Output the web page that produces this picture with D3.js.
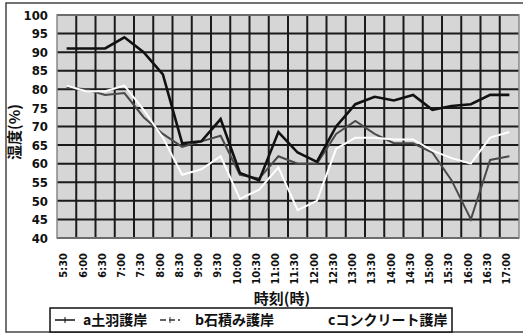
<!DOCTYPE html>
<html><head><meta charset="utf-8">
<script src="https://cdn.jsdelivr.net/npm/d3@7"></script>
<style>
body{margin:0;background:#fff;}
svg text{font-family:"DejaVu Sans Condensed","DejaVu Sans",sans-serif;}
</style></head>
<body><svg id="c" width="523" height="335"></svg>
<script>
const times = ["5:30","6:00","6:30","7:00","7:30","8:00","8:30","9:00","9:30","10:00","10:30","11:00","11:30","12:00","12:30","13:00","13:30","14:00","14:30","15:00","15:30","16:00","16:30","17:00"];
const yTicks = [40,45,50,55,60,65,70,75,80,85,90,95,100];
const seriesA = [91,91,91,94,90,84,65.5,66,72,57.5,55.5,68.5,63,60.5,70,76,78,77,78.5,74.5,75.5,76,78.5,78.5];
const seriesB = [80.5,80,78.5,79,72.5,68,64.5,66,67.5,57,56,62,60,60,68,71.5,68,65.5,65.5,63,55.5,45,61,62];
const seriesC = [81,79.5,79.5,81,74.5,67,57,58.5,62,50.5,53,59,47.5,50,64,67,67,66.5,66.5,63.5,61.5,60,67,68.5];
const seriesNames = ["a土羽護岸","b石積み護岸","cコンクリート護岸"];

const svg = d3.select("#c");
svg.append("rect").attr("x",6).attr("y",3).attr("width",530).attr("height",329)
  .attr("fill","none").attr("stroke","#444").attr("stroke-width",1.5);

const x = d3.scaleBand().domain(times).range([57,519]);
const y = d3.scaleLinear().domain([40,100]).range([238,15]);

svg.append("rect").attr("x",57).attr("y",15).attr("width",462).attr("height",223)
  .attr("fill","#d6d6d6");

const g = svg.append("g");
g.selectAll("line.h").data(yTicks).join("line")
  .attr("x1",57).attr("x2",519).attr("y1",d=>y(d)).attr("y2",d=>y(d))
  .attr("stroke","#1a1a1a").attr("stroke-width",2);
g.selectAll("line.v").data(times.slice(1)).join("line")
  .attr("x1",d=>x(d)).attr("x2",d=>x(d)).attr("y1",15).attr("y2",238)
  .attr("stroke","#1a1a1a").attr("stroke-width",2);
svg.append("rect").attr("x",57).attr("y",15).attr("width",462).attr("height",223)
  .attr("fill","none").attr("stroke","#888").attr("stroke-width",1.5);

const yAxis = d3.axisLeft(y).tickValues(yTicks).tickSize(0).tickPadding(9);
const ya = svg.append("g").attr("transform","translate(57,0)").call(yAxis);
ya.select(".domain").remove();
ya.selectAll("text").attr("font-size",13).attr("font-weight","bold").attr("fill","#111")
  .style("font-family","'DejaVu Sans Condensed',sans-serif");

const xAxis = d3.axisBottom(x).tickSize(0).tickPadding(0);
const xa = svg.append("g").attr("transform","translate(0,238)").call(xAxis);
xa.select(".domain").remove();
xa.selectAll("text").attr("font-size",11).attr("fill","#111").attr("font-weight","bold")
  .attr("text-anchor","end").attr("dy","0.35em")
  .attr("transform","translate(-3,15) rotate(-90)").attr("x",0).attr("y",0);

const line = d3.line().x((d,i)=>x(times[i])+x.bandwidth()/2).y(d=>y(d));
svg.append("path").datum(seriesB).attr("d",line).attr("fill","none")
  .attr("stroke","#4a4a4a").attr("stroke-width",2);
svg.append("path").datum(seriesC).attr("d",line).attr("fill","none")
  .attr("stroke","#ffffff").attr("stroke-width",2);
svg.append("path").datum(seriesA).attr("d",line).attr("fill","none")
  .attr("stroke","#111").attr("stroke-width",2.6);

svg.append("text").attr("x",282).attr("y",304).attr("text-anchor","middle")
  .attr("font-size",15).attr("font-weight","bold").attr("fill","#111")
  .style("font-family","'Noto Sans CJK JP',sans-serif").text("時刻(時)");
svg.append("text").attr("transform","translate(20,132) rotate(-90)").attr("text-anchor","middle")
  .attr("font-size",15).attr("font-weight","bold").attr("fill","#111")
  .style("font-family","'Noto Sans CJK JP',sans-serif").text("湿度(%)");

svg.append("rect").attr("x",50).attr("y",308).attr("width",402).attr("height",24)
  .attr("fill","#fff").attr("stroke","#111").attr("stroke-width",1.5);
const leg = [{x:55, tx:83, stroke:"#111", dash:null},{x:160, tx:195, stroke:"#333", dash:"6,3"},{x:300, tx:328, stroke:"#fff", dash:null}];
leg.forEach((l,i)=>{
  svg.append("line").attr("x1",l.x).attr("x2",l.x+20).attr("y1",320).attr("y2",320)
    .attr("stroke",l.stroke).attr("stroke-width",1.5).attr("stroke-dasharray",l.dash);
  if(i<2) svg.append("line").attr("x1",l.x+10).attr("x2",l.x+10).attr("y1",317).attr("y2",323).attr("stroke",l.stroke).attr("stroke-width",1);
  svg.append("text").attr("x",l.tx).attr("y",325).attr("font-size",14).attr("font-weight","bold")
    .attr("fill","#111").style("font-family","'Noto Sans CJK JP',sans-serif").text(seriesNames[i]);
});
</script></body></html>
